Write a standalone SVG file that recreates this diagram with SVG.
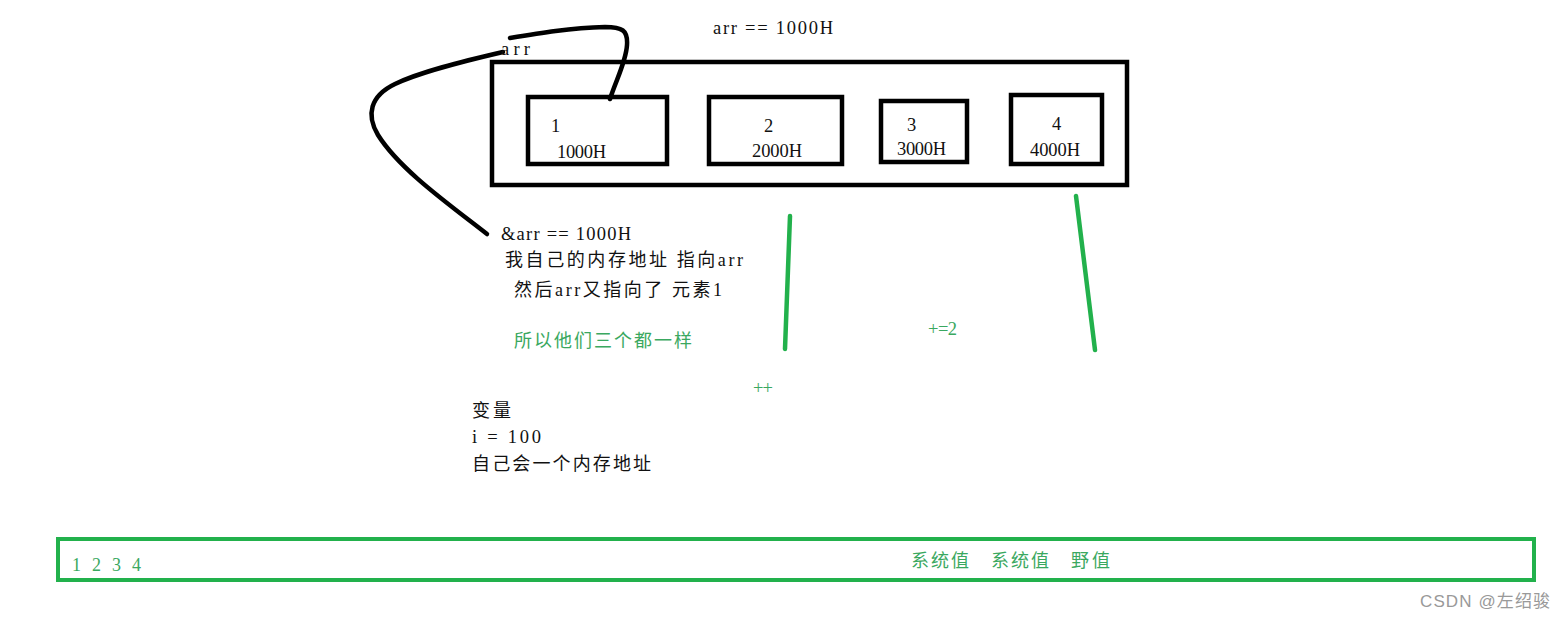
<svg xmlns="http://www.w3.org/2000/svg" width="1566" height="618" viewBox="0 0 1566 618">
<style>
.box{fill:none;stroke:#000;stroke-width:4.5}
.gbox{fill:none;stroke:#22b14c;stroke-width:4}
.t{font-family:"Liberation Serif","Noto Sans CJK SC",serif;font-size:18.5px;fill:#111}
.c{font-family:"Liberation Serif","Noto Sans CJK SC",serif;font-size:18px;fill:#111}
.g{fill:#3aa860}
.ink{fill:none;stroke:#000;stroke-width:4.5;stroke-linecap:round;stroke-linejoin:round}
.gl{fill:none;stroke:#22b14c;stroke-width:4.5;stroke-linecap:round}
</style>
<rect width="1566" height="618" fill="#fff"/>
<g id="array">
<rect class="box" x="492" y="62" width="635" height="123"/>
</g>
<g id="elem1">
<rect class="box" x="528" y="97" width="139" height="67"/>
<text class="t" x="551" y="132">1</text>
<text class="t" x="557" y="158" textLength="49">1000H</text>
</g>
<g id="elem2">
<rect class="box" x="709" y="97" width="133" height="67"/>
<text class="t" x="764" y="132">2</text>
<text class="t" x="752" y="157" textLength="50">2000H</text>
</g>
<g id="elem3">
<rect class="box" x="881" y="101" width="86" height="61"/>
<text class="t" x="907" y="131">3</text>
<text class="t" x="897" y="155" textLength="49">3000H</text>
</g>
<g id="elem4">
<rect class="box" x="1011" y="95" width="91" height="69"/>
<text class="t" x="1052" y="130">4</text>
<text class="t" x="1030" y="156" textLength="50">4000H</text>
</g>
<g id="connectors">
<path class="ink" d="M610,99 C616,80 626,62 627,45 C628,30 622,27 605,27 C570,28 540,33 510,38"/>
<path class="ink" d="M503,52 C460,62 420,72 395,84 C370,96 366,115 378,135 C400,170 450,205 487,234"/>
<path class="gl" d="M790,216 L785,349"/>
<path class="gl" d="M1076,196 L1095,350"/>
</g>
<g id="labels">
<text class="t" x="713" y="34" textLength="120">arr == 1000H</text>
<text class="t" x="501" y="55" textLength="29">arr</text>
<text class="t" x="501" y="240" textLength="130">&amp;arr == 1000H</text>
<text class="c" x="505" y="266" textLength="238">我自己的内存地址 指向arr</text>
<text class="c" x="514" y="296" textLength="208">然后arr又指向了 元素1</text>
<text class="c g" x="514" y="347" textLength="178">所以他们三个都一样</text>
<text class="t g" x="928" y="335" font-size="15" textLength="29">+=2</text>
<text class="t g" x="753" y="394" font-size="15" textLength="20">++</text>
<text class="c" x="472" y="417" textLength="39">变量</text>
<text class="t" x="472" y="443" textLength="69">i = 100</text>
<text class="c" x="472" y="470" textLength="179">自己会一个内存地址</text>
</g>
<g id="memory">
<rect class="gbox" x="58" y="539" width="1476" height="41"/>
<text class="c g" x="72" y="571" textLength="69">1 2 3 4</text>
<text class="c g" x="911" y="567" textLength="58">系统值</text>
<text class="c g" x="991" y="567" textLength="58">系统值</text>
<text class="c g" x="1071" y="567" textLength="39">野值</text>
</g>
<text x="1420" y="607" font-family="'Liberation Sans','Noto Sans CJK SC',sans-serif" font-size="17" fill="#999" textLength="130">CSDN @左绍骏</text>
</svg>
